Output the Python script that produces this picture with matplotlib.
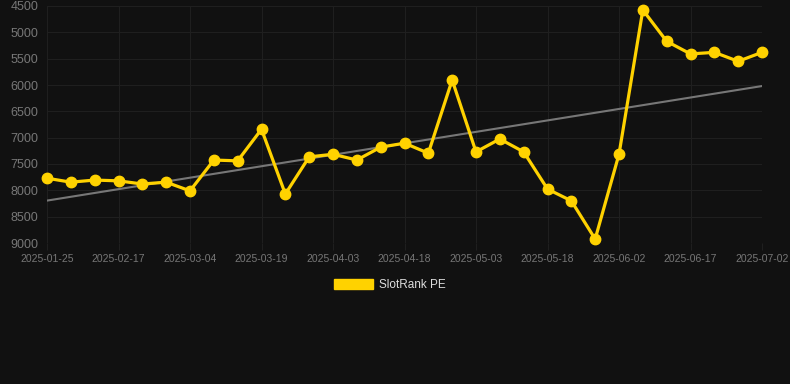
import numpy as np
import matplotlib
matplotlib.use("Agg")
from matplotlib import pyplot as plt
from matplotlib.patches import Patch

# Data (rank values, lower is better -> inverted axis)
tick_labels = ["2025-01-25", "2025-02-17", "2025-03-04", "2025-03-19",
               "2025-04-03", "2025-04-18", "2025-05-03", "2025-05-18",
               "2025-06-02", "2025-06-17", "2025-07-02"]
rank_pe = [7770, 7845, 7805, 7820, 7880, 7845, 8010,
           7425, 7440, 6840, 8070, 7365, 7315, 7425,
           7180, 7105, 7295, 5905, 7270, 7025, 7270,
           7975, 8200, 8925, 7315, 4575, 5170, 5410,
           5380, 5550, 5380]
trend_ends = [8195, 6020]

bg = "#111111"
gold = "#FFD200"
grid_col = "#1f1f1f"
tick_col = "#777777"

plt.rcParams['font.family'] = ['Liberation Sans', 'DejaVu Sans']

fig = plt.figure(figsize=(7.9, 3.84), dpi=100, facecolor=bg)
ax = fig.add_axes([47 / 790, 1 - 243 / 384, 715 / 790, 237 / 384])
ax.set_facecolor(bg)

x = np.arange(len(rank_pe))
ax.plot([x[0], x[-1]], trend_ends, color="#777777", lw=1.5, zorder=2)
ax.plot(x, rank_pe, color=gold, lw=2.3, marker="o", markersize=7.5,
        zorder=3, clip_on=False)

ax.set_xlim(x[0], x[-1])
ax.set_ylim(9000, 4500)
ax.set_yticks(np.arange(4500, 9001, 500))
ax.set_xticks(x[::3])
ax.set_xticklabels(tick_labels)

ax.grid(True, color=grid_col, lw=0.8)
ax.set_axisbelow(True)
for s in ax.spines.values():
    s.set_visible(False)
ax.tick_params(axis="y", length=0, pad=6, labelsize=9, labelcolor=tick_col)
ax.tick_params(axis="x", length=5, color=grid_col, pad=3, labelsize=7.5,
               labelcolor=tick_col)

handle = Patch(facecolor=gold, edgecolor=gold)
fig.legend([handle], ["SlotRank PE"], loc="center", bbox_to_anchor=(390 / 790, 1 - 285 / 384),
           frameon=False, fontsize=8.5, labelcolor="#dddddd",
           handlelength=3.3, handleheight=0.9, handletextpad=0.5)

fig.savefig("out.png", dpi=100, facecolor=bg)
